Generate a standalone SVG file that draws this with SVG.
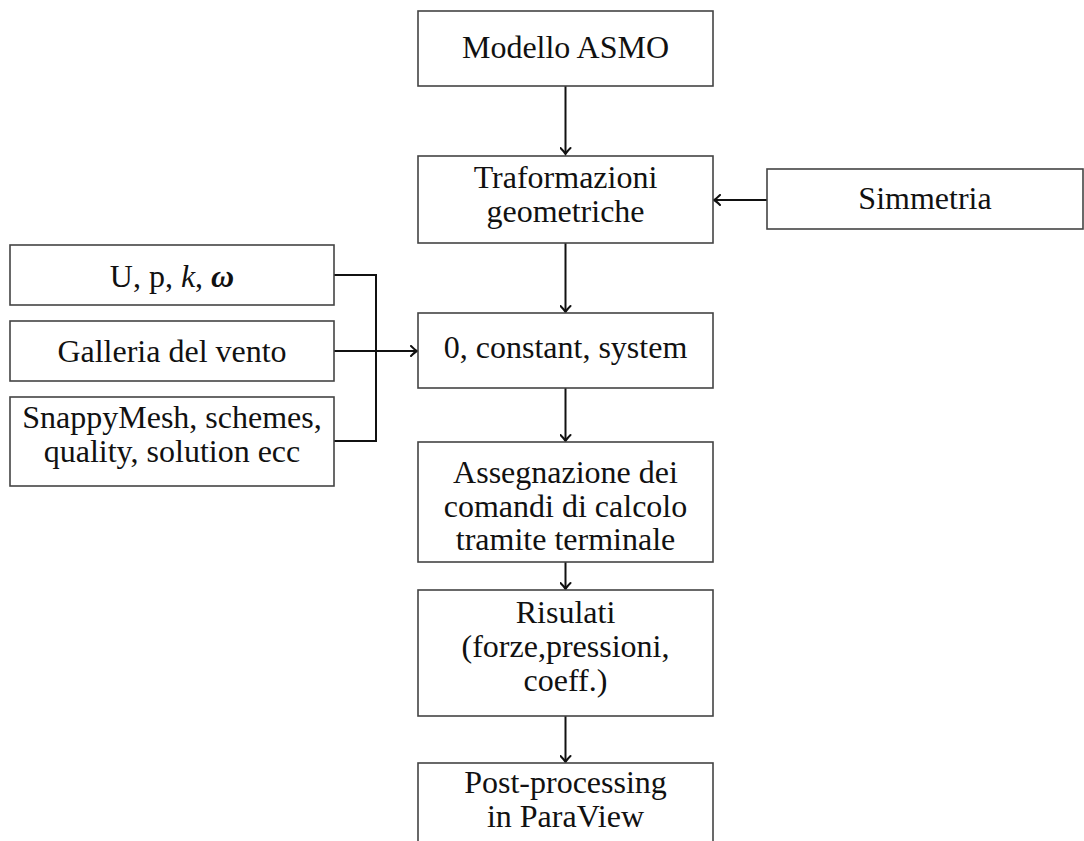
<svg xmlns="http://www.w3.org/2000/svg" width="1084" height="841" viewBox="0 0 1084 841">
<style>
.box{fill:#fff;stroke:#444;stroke-width:1.6}
.t{font-family:"Liberation Serif","Times New Roman",serif;font-size:32px;fill:#111;text-anchor:middle}
.c{fill:none;stroke:#111;stroke-width:2}
</style>
<defs>
<marker id="ar" markerWidth="12" markerHeight="12" viewBox="-8 -6 10 12" refX="0" refY="0" orient="auto" markerUnits="userSpaceOnUse">
<path d="M-6,-5 Q-2,-1 0,0 Q-2,1 -6,5" fill="none" stroke="#111" stroke-width="2" stroke-linecap="round"/>
</marker>
</defs>
<rect width="1084" height="841" fill="#fff"/>
<g id="connectors">
<path class="c" d="M565.5,86 V154" marker-end="url(#ar)"/>
<path class="c" d="M767,200 H714" marker-end="url(#ar)"/>
<path class="c" d="M565.5,243 V312" marker-end="url(#ar)"/>
<path class="c" d="M334,275 H376 V441 H334"/>
<path class="c" d="M334,351 H417" marker-end="url(#ar)"/>
<path class="c" d="M565.5,388 V441" marker-end="url(#ar)"/>
<path class="c" d="M565.5,562 V589" marker-end="url(#ar)"/>
<path class="c" d="M565.5,716 V762" marker-end="url(#ar)"/>
</g>
<g id="n-modello"><rect class="box" x="418" y="11" width="295" height="75"/><text class="t" x="565.5" y="58">Modello ASMO</text></g>
<g id="n-traf"><rect class="box" x="418" y="156" width="295" height="87"/><text class="t" x="565.5" y="188">Traformazioni</text><text class="t" x="565.5" y="222">geometriche</text></g>
<g id="n-simm"><rect class="box" x="767" y="169" width="316" height="60"/><text class="t" x="925" y="209">Simmetria</text></g>
<g id="n-up"><rect class="box" x="10" y="245" width="324" height="60"/><text class="t" x="172" y="287">U, p, <tspan font-style="italic">k</tspan>, <tspan font-style="italic" font-weight="bold">ω</tspan></text></g>
<g id="n-gall"><rect class="box" x="10" y="321" width="324" height="60"/><text class="t" x="172" y="362">Galleria del vento</text></g>
<g id="n-snappy"><rect class="box" x="10" y="397" width="324" height="89"/><text class="t" x="172" y="428">SnappyMesh, schemes,</text><text class="t" x="172" y="462">quality, solution ecc</text></g>
<g id="n-zero"><rect class="box" x="418" y="313" width="295" height="75"/><text class="t" x="565.5" y="358">0, constant, system</text></g>
<g id="n-asse"><rect class="box" x="418" y="442" width="295" height="120"/><text class="t" x="565.5" y="483">Assegnazione dei</text><text class="t" x="565.5" y="517">comandi di calcolo</text><text class="t" x="565.5" y="550">tramite terminale</text></g>
<g id="n-risu"><rect class="box" x="418" y="590" width="295" height="126"/><text class="t" x="565.5" y="623">Risulati</text><text class="t" x="565.5" y="657">(forze,pressioni,</text><text class="t" x="565.5" y="691">coeff.)</text></g>
<g id="n-post"><rect class="box" x="418" y="763" width="295" height="100"/><text class="t" x="565.5" y="793">Post-processing</text><text class="t" x="565.5" y="827">in ParaView</text></g>
</svg>
